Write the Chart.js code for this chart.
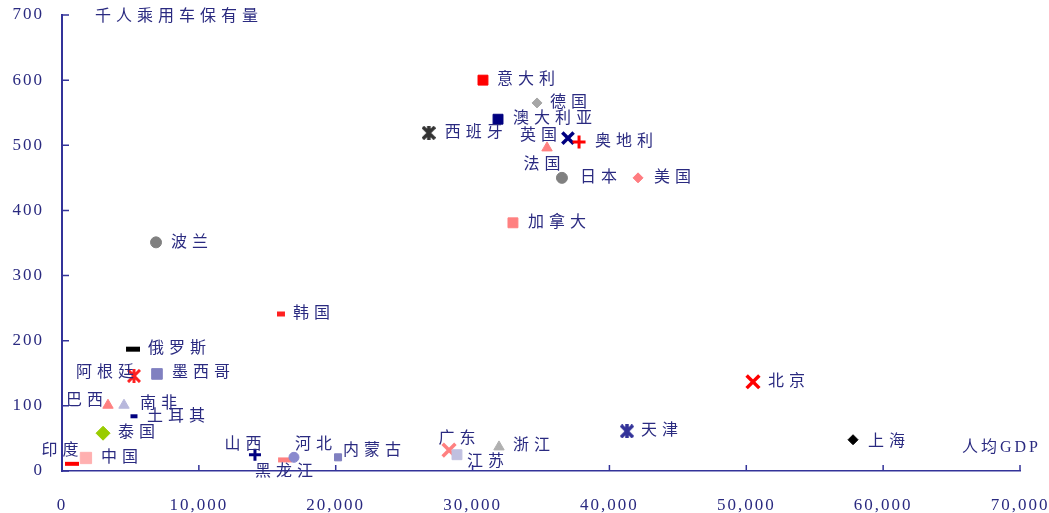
<!DOCTYPE html>
<html>
<head>
<meta charset="utf-8">
<script src="https://cdn.jsdelivr.net/npm/chart.js@4.4.1/dist/chart.umd.min.js"></script>
<style>
html, body { margin: 0; padding: 0; background: #fff; }
</style>
</head>
<body>
<canvas id="scatterChart" width="1049" height="513"></canvas>
<script>
// datos: nombre, PIB per cápita, coches por mil habitantes
var names = ["意大利", "德国", "澳大利亚", "西班牙", "英国", "奥地利", "法国", "日本", "美国", "加拿大",
             "波兰", "韩国", "俄罗斯", "阿根廷", "墨西哥", "巴西", "南非", "土耳其", "泰国", "印度",
             "中国", "山西", "黑龙江", "河北", "内蒙古", "广东", "江苏", "浙江", "天津", "北京", "上海"];
var gdp = [30760, 34710, 31860, 26800, 36970, 37780, 35440, 36530, 42090, 32950,
           6870, 16000, 5190, 5260, 6940, 3360, 4530, 5260, 3000, 730,
           1750, 14100, 16300, 16950, 20170, 28280, 28860, 31930, 41280, 50490, 57800];
var cars = [600, 565, 540, 519, 511, 505, 496, 450, 450, 381,
            351, 241, 187, 146, 149, 101, 101, 84, 58, 11,
            20, 25, 17, 21, 21, 32, 25, 37, 61, 137, 48];
var xTicks = [0, 10000, 20000, 30000, 40000, 50000, 60000, 70000];
var yTicks = [0, 100, 200, 300, 400, 500, 600, 700];
var yTitle = "千人乘用车保有量";
var xTitle = "人均GDP";

// asterisco al estilo de Excel (X + barra vertical)
function asterisk(color, size, lw) {
    var cv = document.createElement('canvas');
    cv.width = size; cv.height = size;
    var g = cv.getContext('2d');
    var m = 1;
    g.strokeStyle = color;
    g.lineWidth = lw;
    g.lineCap = 'butt';
    g.beginPath();
    g.moveTo(m, m); g.lineTo(size - m, size - m);
    g.moveTo(size - m, m); g.lineTo(m, size - m);
    g.moveTo(size / 2, 0); g.lineTo(size / 2, size);
    g.stroke();
    return cv;
}

// estilo de cada marcador
var markerStyle = ["rect", "rectRot", "rect", asterisk("#333333", 14, 3.5), "crossRot", "cross", "triangle", "circle", "rectRot", "rect",
                   "circle", "line", "line", asterisk("#ff2020", 14, 3), "rect", "triangle", "triangle", "line", "rectRot", "line",
                   "rect", "cross", "line", "circle", "rect", "crossRot", "rect", "triangle", asterisk("#333399", 14, 3.5), "crossRot", "rectRot"];
var markerColor = ["#ff0000", "#a6a6a6", "#000080", "#333333", "#000080", "#ff0000", "#ff8080", "#808080", "#ff7c80", "#ff8080",
                   "#808080", "#ff2020", "#000000", "#ff2020", "#8080c0", "#ff8080", "#b8b8dc", "#000080", "#99cc00", "#ff0000",
                   "#ffb0b0", "#000080", "#ff8080", "#8a8ace", "#8080c0", "#ff8080", "#c0c0e0", "#b0b0b0", "#333399", "#ff0000", "#000000"];
var markerSize = [7, 5, 7, 6, 8, 6.5, 6, 5.5, 5, 7,
                  5.5, 4, 7, 6, 7.5, 6, 6, 3.5, 7, 7,
                  8, 6, 7, 5, 5, 9, 7, 6, 6, 9, 5];
var markerWidth = [1, 1, 1, 3, 3.5, 3, 1, 1, 1, 1,
                   1, 5, 5, 3, 1, 1, 1, 4, 1, 4,
                   1, 3, 5, 1, 1, 3.5, 1, 1, 3, 3.5, 1];
// posición de cada etiqueta: alineación, dx, dy
var labelPos = [["left", 14, 0], ["left", 13, 0], ["left", 15, 0], ["left", 16, 0], ["right", -11, -2],
                ["left", 16, 0], ["center", -5, 17], ["left", 18, 0], ["left", 16, 0], ["left", 15, 0],
                ["left", 15, 0], ["left", 12, 0], ["left", 15, 0], ["right", 0, -3], ["left", 15, -1],
                ["right", -5, -4], ["left", 16, -1], ["left", 13, 1], ["left", 15, 0], ["center", -12, -13],
                ["left", 15, 0], ["center", -12, -10], ["center", -1, 12], ["left", 1, -13], ["left", 5, -7],
                ["center", 8, -11], ["left", 10, 7], ["left", 14, -1], ["left", 14, 0], ["left", 15, 0], ["left", 15, 2]];

var axisColor = "#333399";
var textColor = "#2a2a80";
var labelFont = '16px "Liberation Serif", "Noto Sans CJK SC"';

var points = gdp.map(function (g, i) { return { x: g, y: cars[i] }; });

// etiquetas de puntos, títulos de ejes y marcas hacia dentro
var labelPlugin = {
    id: 'labels',
    beforeDraw: function (chart) {
        chart.ctx.letterSpacing = '2px';
    },
    afterDraw: function (chart) {
        var c = chart.ctx;
        var area = chart.chartArea;
        var xs = chart.scales.x, ys = chart.scales.y;
        c.save();
        c.letterSpacing = '0px';
        c.strokeStyle = axisColor;
        c.lineWidth = 1.5;
        c.beginPath();
        xTicks.forEach(function (v) {
            var px = xs.getPixelForValue(v);
            c.moveTo(px, area.bottom);
            c.lineTo(px, area.bottom - 6);
        });
        yTicks.forEach(function (v) {
            var py = ys.getPixelForValue(v);
            c.moveTo(area.left, py);
            c.lineTo(area.left + 7, py);
        });
        c.stroke();

        var sp = 5;
        c.letterSpacing = sp + 'px';
        c.font = labelFont;
        c.fillStyle = textColor;
        c.textBaseline = 'middle';
        var meta = chart.getDatasetMeta(0);
        names.forEach(function (n, i) {
            var pt = meta.data[i];
            var p = labelPos[i];
            var x = pt.x + p[1];
            if (p[0] === 'right') x += sp;
            if (p[0] === 'center') x += sp / 2;
            c.textAlign = p[0];
            c.fillText(n, x, pt.y + p[2]);
        });
        c.textAlign = 'left';
        c.fillText(yTitle, 95, 17);
        c.letterSpacing = '3px';
        c.fillText(xTitle, 962, 448);
        c.restore();
    }
};

var ctx = document.getElementById('scatterChart').getContext('2d');
var myChart = new Chart(ctx, {
    type: 'scatter',
    data: {
        datasets: [{
            data: points,
            pointStyle: markerStyle,
            backgroundColor: markerColor,
            borderColor: markerColor,
            pointRadius: markerSize,
            pointHoverRadius: markerSize,
            borderWidth: markerWidth,
            clip: false
        }]
    },
    options: {
        responsive: false,
        animation: false,
        layout: { padding: { top: 15, right: 29, left: 0, bottom: 0 } },
        plugins: {
            legend: { display: false },
            tooltip: { enabled: false }
        },
        scales: {
            x: {
                type: 'linear',
                min: 0,
                max: 70000,
                afterBuildTicks: function (s) { s.ticks = xTicks.map(function (v) { return { value: v }; }); },
                afterFit: function (s) { s.height = 42; s.paddingLeft = 0; s.paddingRight = 0; },
                grid: { drawOnChartArea: false, drawTicks: false },
                border: { color: axisColor, width: 1.5 },
                ticks: {
                    padding: 24,
                    color: textColor,
                    font: { family: '"Liberation Serif"', size: 17 },
                    callback: function (v) { return v.toLocaleString('en-US'); }
                }
            },
            y: {
                min: 0,
                max: 700,
                afterBuildTicks: function (s) { s.ticks = yTicks.map(function (v) { return { value: v }; }); },
                afterFit: function (s) { s.width = 62; s.paddingTop = 0; s.paddingBottom = 0; },
                grid: { drawOnChartArea: false, drawTicks: false },
                border: { color: axisColor, width: 2 },
                ticks: {
                    padding: 18,
                    color: textColor,
                    font: { family: '"Liberation Serif"', size: 17 }
                }
            }
        }
    },
    plugins: [labelPlugin]
});
</script>
</body>
</html>
